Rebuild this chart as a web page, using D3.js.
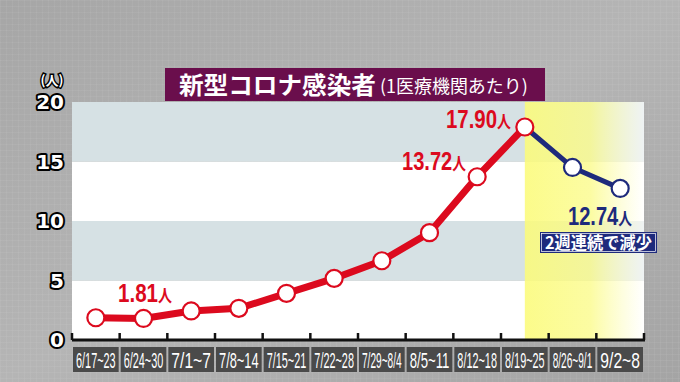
<!DOCTYPE html>
<html><head><meta charset="utf-8">
<script src="https://cdn.jsdelivr.net/npm/d3@7"></script>
<style>html,body{margin:0;padding:0;background:#a8a8a8;}svg{display:block}</style>
</head><body><div id="chart"></div>
<script>
const categories = ["6/17~23","6/24~30","7/1~7","7/8~14","7/15~21","7/22~28","7/29~8/4","8/5~11","8/12~18","8/19~25","8/26~9/1","9/2~8"];
const values = [1.87, 1.81, 2.44, 2.66, 3.92, 5.18, 6.66, 9.02, 13.72, 17.90, 14.5, 12.74];
const yTicks = [0, 5, 10, 15, 20];
const title = "新型コロナ感染者";
const subtitle = "(1医療機関あたり)";
const unitLabel = "(人)";
const redLabels = [{i:1, text:"1.81"}, {i:8, text:"13.72"}, {i:9, text:"17.90"}];
const blueLabel = {i:11, text:"12.74"};
const noteText = "2週連続で減少";
const peakIndex = 9;

const W = 680, H = 382;
const red = "#dc0a1e", navy = "#1e2a7c";
const svg = d3.select("#chart").append("svg").attr("width", W).attr("height", H);
const defs = svg.append("defs");

function fitText(sel, x0, w, yb) {
  sel.attr("x", 0).attr("y", 0);
  const bw = sel.node().getBBox().width || w;
  sel.attr("transform", `translate(${x0},${yb}) scale(${w / bw},1)`);
}

// background
const bg = defs.append("linearGradient").attr("id","bg").attr("x1","0").attr("y1","0").attr("x2","1").attr("y2","1");
bg.append("stop").attr("offset","0").attr("stop-color","#a6a6a6");
bg.append("stop").attr("offset","0.5").attr("stop-color","#b5b5b5");
bg.append("stop").attr("offset","1").attr("stop-color","#a4a4a4");
const pat = defs.append("pattern").attr("id","grid").attr("width",6).attr("height",6).attr("patternUnits","userSpaceOnUse");
pat.append("path").attr("d","M6 0 L0 0 0 6").attr("fill","none").attr("stroke","#ffffff").attr("stroke-opacity",0.10).attr("stroke-width",1);
svg.append("rect").attr("width",W).attr("height",H).attr("fill","url(#bg)");
svg.append("rect").attr("width",W).attr("height",H).attr("fill","url(#grid)");

const x = d3.scaleBand().domain(categories).range([72, 644]).padding(0);
const y = d3.scaleLinear().domain([0, 20]).range([340, 102]);
const cx = c => x(c) + x.bandwidth()/2;

// bands
const bandPairs = d3.pairs(yTicks);
svg.append("g").selectAll("rect").data(bandPairs).join("rect")
  .attr("x", 72).attr("width", 644-72)
  .attr("y", d => y(d[1])).attr("height", d => y(d[0]) - y(d[1]))
  .attr("fill", (d,i) => i % 2 === 1 ? "#d6e1e4" : "#ffffff");

// yellow highlight
const yg = defs.append("linearGradient").attr("id","yel").attr("x1","0").attr("x2","1").attr("y1","0").attr("y2","0");
yg.append("stop").attr("offset","0").attr("stop-color","#fbfb7a").attr("stop-opacity",0.88);
yg.append("stop").attr("offset","0.55").attr("stop-color","#fbfb88").attr("stop-opacity",0.78);
yg.append("stop").attr("offset","1").attr("stop-color","#ffffff").attr("stop-opacity",0.6);
svg.append("rect").attr("x", cx(categories[peakIndex])).attr("y", y(20))
  .attr("width", 644 - cx(categories[peakIndex])).attr("height", y(0) - y(20))
  .attr("fill","url(#yel)");

// title box
svg.append("rect").attr("x",165).attr("y",68).attr("width",380).attr("height",33).attr("fill","#6a0e4c");
fitText(svg.append("text").attr("fill","#fff")
  .attr("font-family","'Noto Sans CJK JP', sans-serif").attr("font-weight","bold").attr("font-size",24)
  .text(title), 179, 197, 94);
fitText(svg.append("text").attr("fill","#fff")
  .attr("font-family","'Noto Sans CJK JP', sans-serif").attr("font-size",18)
  .text(subtitle), 380, 148, 93);

// y axis labels
svg.append("g").selectAll("text").data(yTicks).join("text")
  .attr("x", 64).attr("y", d => y(d)).attr("dy","0.36em").attr("text-anchor","end")
  .attr("font-family","'DejaVu Sans', sans-serif").attr("font-weight","bold").attr("font-size",20)
  .attr("fill","#fff").attr("stroke","#000").attr("stroke-width",4).attr("paint-order","stroke")
  .attr("stroke-linejoin","round")
  .text(d => d);
svg.append("text").attr("x",52).attr("y",85).attr("text-anchor","middle")
  .attr("font-family","'Noto Sans CJK JP', sans-serif").attr("font-weight","bold").attr("font-size",13)
  .attr("fill","#fff").attr("stroke","#000").attr("stroke-width",3).attr("paint-order","stroke")
  .text(unitLabel);

// x axis
const axisG = svg.append("g").attr("transform","translate(0,340)");
axisG.append("line").attr("x1",72).attr("x2",645).attr("y1",0).attr("y2",0).attr("stroke","#111").attr("stroke-width",3);
const bounds = categories.map(c => x(c)).concat([x(categories[categories.length-1]) + x.bandwidth()]);
axisG.selectAll("line.tk").data(bounds).join("line").attr("class","tk")
  .attr("x1", d=>d).attr("x2", d=>d).attr("y1",0).attr("y2",-7).attr("stroke","#111").attr("stroke-width",2.5);

// x labels
const xl = svg.append("g").selectAll("g").data(categories).join("g");
xl.append("rect").attr("x", d => x(d)+1).attr("y",347).attr("width", x.bandwidth()-2).attr("height",25).attr("fill","#4a4a4a");
xl.append("text").attr("fill","#fff")
  .attr("font-family","'Liberation Sans', sans-serif").attr("font-size",22)
  .text(d => d)
  .each(function(d) { fitText(d3.select(this), x(d) + 4, x.bandwidth() - 8, 367.5); });

// lines
const pts = categories.map((c,i) => ({c, v: values[i], i}));
const line = d3.line().x(d => cx(d.c)).y(d => y(d.v));
svg.append("path").datum(pts.slice(0, peakIndex+1)).attr("d", line)
  .attr("fill","none").attr("stroke",red).attr("stroke-width",7).attr("stroke-linejoin","round");
svg.append("path").datum(pts.slice(peakIndex)).attr("d", line)
  .attr("fill","none").attr("stroke",navy).attr("stroke-width",5).attr("stroke-linejoin","round");
svg.append("g").selectAll("circle").data(pts).join("circle")
  .attr("cx", d => cx(d.c)).attr("cy", d => y(d.v)).attr("r", 8.5)
  .attr("fill","#fff").attr("stroke", d => d.i > peakIndex ? navy : red).attr("stroke-width",2.2);

// value labels
function valLabel(x0, x1, yb, txt, color) {
  const t = svg.append("text").attr("fill", color)
    .attr("font-family","'Liberation Sans', sans-serif").attr("font-weight","bold");
  t.append("tspan").attr("font-size",25).text(txt);
  t.append("tspan").attr("font-size",17).attr("font-family","'Noto Sans CJK JP', sans-serif").text("人");
  fitText(t, x0, x1 - x0, yb);
}
const lblPos = {1:[118,172,302], 8:[402,466,170], 9:[446,511,128]};
redLabels.forEach(l => {
  const p = lblPos[l.i];
  valLabel(p[0], p[1], p[2], l.text, red);
});
valLabel(568, 632, 225, blueLabel.text, navy);

// note box
svg.append("rect").attr("x",540).attr("y",232).attr("width",117).attr("height",21).attr("fill",navy);
svg.append("rect").attr("x",541.5).attr("y",233.5).attr("width",114).attr("height",18).attr("fill","none").attr("stroke","#fff").attr("stroke-width",0.7);
fitText(svg.append("text").attr("fill","#fff")
  .attr("font-family","'Noto Sans CJK JP', sans-serif").attr("font-weight","bold").attr("font-size",17)
  .text(noteText), 545, 107, 249);
</script></body></html>
